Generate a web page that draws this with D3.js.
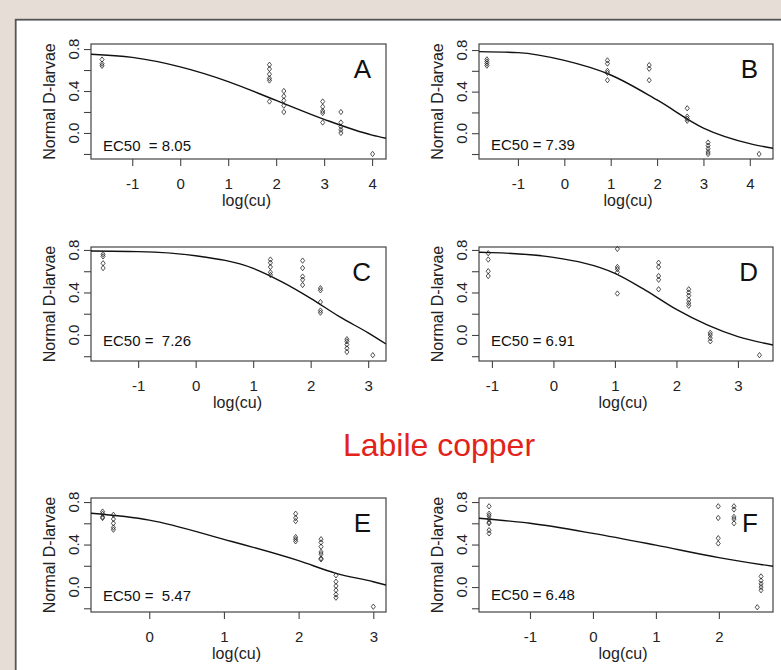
<!DOCTYPE html>
<html>
<head>
<meta charset="utf-8">
<script src="https://cdn.jsdelivr.net/npm/d3@7"></script>
<style>
  body { margin: 0; background: #e6ddd7; }
  svg { display: block; font-family: "Liberation Sans", Arial, sans-serif; }
</style>
</head>
<body>
<script>
// valores (log da concentração de cobre x fração de larvas D normais)
var paineisId = ["A", "B", "C", "D", "E", "F"];
var rotulosEC50 = ["EC50  = 8.05", "EC50 = 7.39", "EC50 =  7.26", "EC50 = 6.91", "EC50 =  5.47", "EC50 = 6.48"];
var tituloMeio = "Labile copper";
var rotuloX = "log(cu)";
var rotuloY = "Normal D-larvae";

var ticksY = [-0.2, 0, 0.2, 0.4, 0.6, 0.8];
var ticksYRotulados = [0, 0.4, 0.8];

var ticksXA = [-1, 0, 1, 2, 3, 4];
var ticksXB = [-1, 0, 1, 2, 3, 4];
var ticksXC = [-1, 0, 1, 2, 3];
var ticksXD = [-1, 0, 1, 2, 3];
var ticksXE = [0, 1, 2, 3];
var ticksXF = [-1, 0, 1, 2];

var doseA = [-1.63, 1.86, 2.16, 2.97, 3.35, 4.01];
var respA = [[0.70, 0.66, 0.64], [0.65, 0.61, 0.56, 0.52, 0.50, 0.30], [0.40, 0.35, 0.31, 0.26, 0.20],
             [0.30, 0.25, 0.21, 0.19, 0.10], [0.20, 0.10, 0.06, 0.03, 0.00], [-0.20]];
var curvaXA = [-1.86, -1, 0, 1, 2, 3, 4, 4.29];
var curvaYA = [0.75, 0.72, 0.63, 0.49, 0.31, 0.13, -0.02, -0.05];

var doseB = [-1.67, 0.93, 1.83, 2.65, 3.10, 4.20];
var respB = [[0.71, 0.69, 0.67, 0.65], [0.70, 0.67, 0.60, 0.58, 0.51], [0.655, 0.62, 0.51],
             [0.24, 0.16, 0.14, 0.12], [-0.09, -0.12, -0.15, -0.18, -0.20], [-0.20]];
var curvaXB = [-1.84, -1, 0, 1, 2, 3, 4, 4.5];
var curvaYB = [0.785, 0.775, 0.70, 0.56, 0.32, 0.05, -0.10, -0.145];

var doseC = [-1.61, 1.30, 1.86, 2.17, 2.63, 3.08];
var respC = [[0.76, 0.74, 0.675, 0.63], [0.71, 0.68, 0.64, 0.59, 0.565], [0.70, 0.63, 0.55, 0.52, 0.47],
             [0.44, 0.42, 0.31, 0.23, 0.21], [-0.04, -0.06, -0.09, -0.125, -0.16], [-0.19]];
var curvaXC = [-1.82, -1, 0, 1, 1.5, 2, 2.5, 3, 3.31];
var curvaYC = [0.79, 0.784, 0.746, 0.627, 0.50, 0.345, 0.172, 0.02, -0.085];

var doseD = [-1.06, 1.04, 1.71, 2.20, 2.55, 3.35];
var respD = [[0.77, 0.71, 0.60, 0.555], [0.81, 0.64, 0.62, 0.59, 0.39], [0.68, 0.64, 0.555, 0.52, 0.43],
             [0.43, 0.40, 0.37, 0.33, 0.30, 0.275], [0.02, 0.0, -0.03, -0.06], [-0.19]];
var curvaXD = [-1.21, -1, 0, 1, 1.5, 2, 2.5, 3, 3.57];
var curvaYD = [0.778, 0.775, 0.73, 0.58, 0.42, 0.24, 0.094, -0.016, -0.094];

var doseE = [-0.625, -0.48, 1.96, 2.30, 2.50, 3.00];
var respE = [[0.71, 0.69, 0.66, 0.65], [0.68, 0.64, 0.60, 0.56, 0.54], [0.69, 0.65, 0.62, 0.47, 0.45, 0.43],
             [0.45, 0.42, 0.38, 0.33, 0.31, 0.27, 0.26], [0.11, 0.05, 0.01, -0.03, -0.07, -0.10], [-0.185]];
var curvaXE = [-0.78, 0, 1, 2, 2.5, 3, 3.17];
var curvaYE = [0.694, 0.63, 0.449, 0.248, 0.129, 0.05, 0.019];

var doseF = [-1.65, 1.99, 2.24, 2.67, 2.61];
var respF = [[0.76, 0.69, 0.67, 0.64, 0.61, 0.60, 0.535, 0.505], [0.76, 0.65, 0.46, 0.41],
             [0.76, 0.73, 0.66, 0.64, 0.60], [0.10, 0.06, 0.03, 0.0, -0.03], [-0.19]];
var curvaXF = [-1.81, -1, 0, 1, 2, 2.86];
var curvaYF = [0.647, 0.60, 0.505, 0.394, 0.277, 0.195];

var largura = 781;
var altura = 670;

var svg = d3.select("body")
            .append("svg")
            .attr("width", largura)
            .attr("height", altura);

svg.append("rect")
   .attr("width", largura)
   .attr("height", altura)
   .attr("fill", "#e6ddd7");

svg.append("rect")
   .attr("x", 15.7)
   .attr("y", 19.7)
   .attr("width", largura)
   .attr("height", altura)
   .attr("fill", "white")
   .attr("stroke", "#555")
   .attr("stroke-width", 1.8);

svg.append("text")
   .attr("x", 439)
   .attr("y", 456)
   .attr("text-anchor", "middle")
   .attr("font-size", 32)
   .attr("fill", "#e2231a")
   .text(tituloMeio);

// caixas de cada painel (pixels) e domínios
var colunas = [[91, 386], [479, 773]];
var linhas = [[44, 159], [247, 361], [498, 612]];

var paineis = [
  {dose: doseA, resp: respA, cx: curvaXA, cy: curvaYA, ticks: ticksXA, xdom: [-1.86, 4.29], ydom: [-0.248, 0.848], ecDy: 8.5, labDx: 8},
  {dose: doseB, resp: respB, cx: curvaXB, cy: curvaYB, ticks: ticksXB, xdom: [-1.84, 4.5], ydom: [-0.248, 0.858], ecDy: 9, labDx: 2},
  {dose: doseC, resp: respC, cx: curvaXC, cy: curvaYC, ticks: ticksXC, xdom: [-1.82, 3.31], ydom: [-0.245, 0.828], ecDy: 15, labDx: -1},
  {dose: doseD, resp: respD, cx: curvaXD, cy: curvaYD, ticks: ticksXD, xdom: [-1.21, 3.57], ydom: [-0.245, 0.828], ecDy: 15, labDx: -3},
  {dose: doseE, resp: respE, cx: curvaXE, cy: curvaYE, ticks: ticksXE, xdom: [-0.78, 3.17], ydom: [-0.235, 0.838], ecDy: 11.5, labDx: -2},
  {dose: doseF, resp: respF, cx: curvaXF, cy: curvaYF, ticks: ticksXF, xdom: [-1.81, 2.86], ydom: [-0.235, 0.838], ecDy: 12, labDx: -3}
];

var simbolo = d3.symbol().type(d3.symbolDiamond2).size(15);

paineis.forEach(function(p, i) {
  var x0 = colunas[i % 2][0], x1 = colunas[i % 2][1];
  var y0 = linhas[Math.floor(i / 2)][0], y1 = linhas[Math.floor(i / 2)][1];

  var x = d3.scaleLinear().domain(p.xdom).range([x0, x1]);
  var y = d3.scaleLinear().domain(p.ydom).range([y1, y0]);

  var g = svg.append("g");

  g.append("clipPath")
   .attr("id", "clip" + i)
   .append("rect")
   .attr("x", x0).attr("y", y0)
   .attr("width", x1 - x0).attr("height", y1 - y0);

  // eixo x
  var eixoX = g.append("g")
               .attr("transform", "translate(0," + y1 + ")")
               .call(d3.axisBottom(x).tickValues(p.ticks).tickSize(7).tickFormat(function(d) { return String(d); }));
  eixoX.select(".domain").remove();
  eixoX.selectAll("line").attr("stroke", "#444").attr("stroke-width", 1.1);
  eixoX.selectAll("text")
       .attr("y", 30).attr("dy", null)
       .attr("font-size", 15).attr("fill", "#222")
       .attr("font-family", "Liberation Sans, Arial, sans-serif");

  // eixo y
  var eixoY = g.append("g")
               .attr("transform", "translate(" + x0 + ",0)")
               .call(d3.axisLeft(y).tickValues(ticksY).tickSize(7).tickFormat(""));
  eixoY.select(".domain").remove();
  eixoY.selectAll("line").attr("stroke", "#444").attr("stroke-width", 1.1);

  g.selectAll("text.ytick")
   .data(ticksYRotulados)
   .enter()
   .append("text")
   .attr("class", "ytick")
   .attr("transform", function(d) { return "translate(" + (x0 - 12) + "," + y(d) + ") rotate(-90)"; })
   .attr("text-anchor", "middle")
   .attr("font-size", 15)
   .attr("fill", "#222")
   .text(function(d) { return d.toFixed(1); });

  // caixa
  g.append("rect")
   .attr("x", x0).attr("y", y0)
   .attr("width", x1 - x0).attr("height", y1 - y0)
   .attr("fill", "none")
   .attr("stroke", "#444")
   .attr("stroke-width", 1.2);

  // curva ajustada
  var linha = d3.line()
                .x(function(d) { return x(d[0]); })
                .y(function(d) { return y(d[1]); })
                .curve(d3.curveMonotoneX);

  g.append("path")
   .attr("d", linha(d3.zip(p.cx, p.cy)))
   .attr("clip-path", "url(#clip" + i + ")")
   .attr("fill", "none")
   .attr("stroke", "#111")
   .attr("stroke-width", 1.4);

  // pontos observados
  var pontos = [];
  p.dose.forEach(function(dx, k) {
    p.resp[k].forEach(function(v) { pontos.push([dx, v]); });
  });

  g.selectAll("path.pt")
   .data(pontos)
   .enter()
   .append("path")
   .attr("class", "pt")
   .attr("d", simbolo)
   .attr("transform", function(d) { return "translate(" + x(d[0]) + "," + y(d[1]) + ") scale(0.85,1.1)"; })
   .attr("fill", "none")
   .attr("stroke", "#222")
   .attr("stroke-width", 0.8);

  // textos
  g.append("text")
   .attr("x", x1 - 15)
   .attr("y", y0 + 34)
   .attr("text-anchor", "end")
   .attr("font-size", 26)
   .attr("fill", "#111")
   .text(paineisId[i]);

  g.append("text")
   .attr("x", x0 + 12)
   .attr("y", y1 - p.ecDy)
   .attr("font-size", 15)
   .attr("fill", "#111")
   .style("white-space", "pre")
   .text(rotulosEC50[i]);

  g.append("text")
   .attr("x", (x0 + x1) / 2 + p.labDx)
   .attr("y", y1 + 47)
   .attr("text-anchor", "middle")
   .attr("font-size", 16)
   .attr("fill", "#222")
   .text(rotuloX);

  g.append("text")
   .attr("transform", "translate(" + (x0 - 36) + "," + ((y0 + y1) / 2) + ") rotate(-90)")
   .attr("text-anchor", "middle")
   .attr("font-size", 16)
   .attr("fill", "#222")
   .text(rotuloY);
});
</script>
</body>
</html>
